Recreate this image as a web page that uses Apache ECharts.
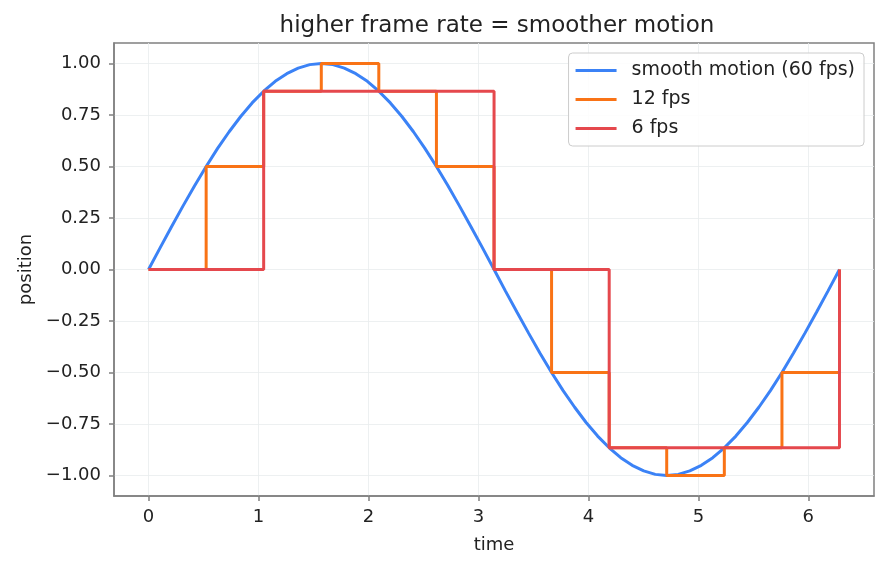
<!DOCTYPE html>
<html>
<head>
<meta charset="utf-8">
<script src="https://cdn.jsdelivr.net/npm/echarts@6/dist/echarts.min.js"></script>
<style>
  html, body { margin: 0; padding: 0; background: #fff; }
  #main { width: 887px; height: 569px; }
</style>
</head>
<body>
<div id="main"></div>
<script>
// smooth motion, sampled at 60 fps
const smoothT = [0, 0.105, 0.209, 0.314, 0.419, 0.524, 0.628, 0.733, 0.838, 0.942,
  1.047, 1.152, 1.257, 1.361, 1.466, 1.571, 1.676, 1.780, 1.885, 1.990,
  2.094, 2.199, 2.304, 2.409, 2.513, 2.618, 2.723, 2.827, 2.932, 3.037,
  3.142, 3.246, 3.351, 3.456, 3.560, 3.665, 3.770, 3.875, 3.979, 4.084,
  4.189, 4.294, 4.398, 4.503, 4.608, 4.712, 4.817, 4.922, 5.027, 5.131,
  5.236, 5.341, 5.445, 5.550, 5.655, 5.760, 5.864, 5.969, 6.074, 6.178, 6.283];
const smoothPos = [0, 0.105, 0.208, 0.309, 0.407, 0.5, 0.588, 0.669, 0.743, 0.809,
  0.866, 0.914, 0.951, 0.978, 0.995, 1.0, 0.995, 0.978, 0.951, 0.914,
  0.866, 0.809, 0.743, 0.669, 0.588, 0.5, 0.407, 0.309, 0.208, 0.105,
  0, -0.105, -0.208, -0.309, -0.407, -0.5, -0.588, -0.669, -0.743, -0.809,
  -0.866, -0.914, -0.951, -0.978, -0.995, -1.0, -0.995, -0.978, -0.951, -0.914,
  -0.866, -0.809, -0.743, -0.669, -0.588, -0.5, -0.407, -0.309, -0.208, -0.105, 0];

// 12 fps samples
const t12 = [0, 0.524, 1.047, 1.571, 2.094, 2.618, 3.142, 3.665, 4.189, 4.712, 5.236, 5.760, 6.283];
const pos12 = [0, 0.5, 0.866, 1.0, 0.866, 0.5, 0, -0.5, -0.866, -1.0, -0.866, -0.5, 0];

// 6 fps samples
const t6 = [0, 1.047, 2.094, 3.142, 4.189, 5.236, 6.283];
const pos6 = [0, 0.866, 0.866, 0, -0.866, -0.866, 0];

const xTicks = [0, 1, 2, 3, 4, 5, 6];
const yTicks = [-1.0, -0.75, -0.5, -0.25, 0, 0.25, 0.5, 0.75, 1.0];

const seriesNames = ['smooth motion (60 fps)', '12 fps', '6 fps'];
const colors = ['#3b82f6', '#f97316', '#e5484d'];

const font = 'DejaVu Sans';
const textColor = '#222222';
const axisColor = '#808080';

function pairs(xs, ys) {
  return xs.map((x, i) => [x, ys[i]]);
}

const gridLines = xTicks.map(v => ({ xAxis: v })).concat(yTicks.map(v => ({ yAxis: v })));

let chart = echarts.init(document.getElementById('main'), null, { renderer: 'canvas' });

let option = {
  animation: false,
  backgroundColor: '#ffffff',
  textStyle: { fontFamily: font, color: textColor },
  title: {
    text: 'higher frame rate = smoother motion',
    left: 492,
    textAlign: 'center',
    top: 10,
    textStyle: { fontFamily: font, fontSize: 23, fontWeight: 'normal', color: textColor }
  },
  legend: {
    orient: 'vertical',
    right: 23,
    top: 53,
    z: 10,
    padding: [8, 9, 8, 7],
    icon: 'rect',
    itemWidth: 41,
    itemHeight: 3,
    itemGap: 10,
    backgroundColor: 'rgba(255,255,255,0.85)',
    borderColor: '#cccccc',
    borderWidth: 1,
    borderRadius: 4,
    data: seriesNames,
    textStyle: { fontFamily: font, fontSize: 19, color: textColor, padding: [0, 0, 0, 10] }
  },
  grid: {
    left: 114, right: 13, top: 43, bottom: 73, containLabel: false,
    show: true, borderColor: axisColor, borderWidth: 1.5, backgroundColor: 'transparent'
  },
  xAxis: {
    type: 'value',
    min: -0.314,
    max: 6.597,
    name: 'time',
    nameLocation: 'middle',
    nameGap: 40,
    nameTextStyle: { fontFamily: font, fontSize: 18, color: textColor },
    axisLine: { show: true, onZero: false, lineStyle: { color: axisColor, width: 1.5 } },
    axisTick: { show: true, length: 5, customValues: xTicks, lineStyle: { color: axisColor, width: 1.5 } },
    axisLabel: { customValues: xTicks, margin: 12, fontFamily: font, fontSize: 18, color: textColor },
    splitLine: { show: false }
  },
  yAxis: {
    type: 'value',
    min: -1.1,
    max: 1.1,
    name: 'position',
    nameLocation: 'middle',
    nameGap: 77,
    nameTextStyle: { fontFamily: font, fontSize: 18, color: textColor },
    axisLine: { show: true, onZero: false, lineStyle: { color: axisColor, width: 1.5 } },
    axisTick: { show: true, length: 5, customValues: yTicks, lineStyle: { color: axisColor, width: 1.5 } },
    axisLabel: {
      customValues: yTicks,
      margin: 13,
      fontFamily: font,
      fontSize: 18,
      color: textColor,
      formatter: v => v.toFixed(2).replace('-', '\u2212')
    },
    splitLine: { show: false }
  },
  series: [
    {
      name: 'grid',
      type: 'line',
      data: [],
      silent: true,
      z: 0,
      markLine: {
        silent: true,
        z: 0,
        symbol: 'none',
        label: { show: false },
        emphasis: { disabled: true },
        lineStyle: { color: '#e8ecee', width: 0.8, type: 'solid' },
        data: gridLines
      }
    },
    {
      name: seriesNames[0],
      type: 'line',
      data: pairs(smoothT, smoothPos),
      symbol: 'none',
      z: 3,
      lineStyle: { color: colors[0], width: 3 },
      itemStyle: { color: colors[0] }
    },
    {
      name: seriesNames[1],
      type: 'line',
      step: 'end',
      data: pairs(t12, pos12),
      symbol: 'none',
      z: 4,
      lineStyle: { color: colors[1], width: 3 },
      itemStyle: { color: colors[1] }
    },
    {
      name: seriesNames[2],
      type: 'line',
      step: 'end',
      data: pairs(t6, pos6),
      symbol: 'none',
      z: 5,
      lineStyle: { color: colors[2], width: 3 },
      itemStyle: { color: colors[2] }
    }
  ]
};

chart.setOption(option);
</script>
</body>
</html>
